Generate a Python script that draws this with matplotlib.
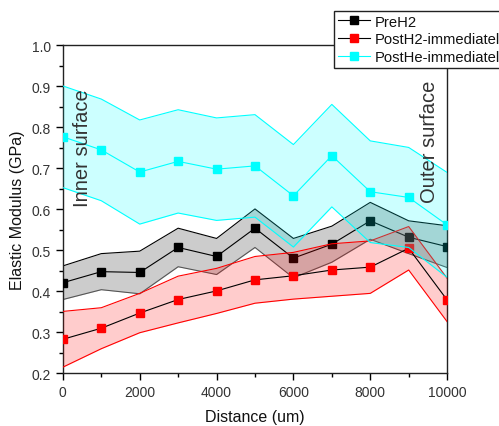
import matplotlib
matplotlib.use("Agg")
import matplotlib.pyplot as plt
from matplotlib.ticker import MultipleLocator
import numpy as np

plt.rcParams["font.family"] = ["Liberation Sans", "DejaVu Sans"]

# data
distance = [0, 1000, 2000, 3000, 4000, 5000, 6000, 7000, 8000, 9000, 10000]

pre_h2 = [0.421, 0.448, 0.446, 0.507, 0.485, 0.554, 0.481, 0.515, 0.572, 0.532, 0.509]
pre_h2_err = [0.041, 0.044, 0.052, 0.047, 0.044, 0.047, 0.048, 0.044, 0.045, 0.040, 0.051]

post_h2 = [0.283, 0.310, 0.347, 0.380, 0.401, 0.428, 0.438, 0.452, 0.459, 0.505, 0.379]
post_h2_err = [0.068, 0.050, 0.048, 0.057, 0.055, 0.057, 0.057, 0.064, 0.064, 0.053, 0.053]

post_he = [0.777, 0.745, 0.691, 0.717, 0.698, 0.706, 0.633, 0.731, 0.643, 0.629, 0.562]
post_he_err = [0.124, 0.124, 0.127, 0.126, 0.125, 0.125, 0.125, 0.125, 0.124, 0.122, 0.128]

labels = ["PreH2", "PostH2-immediately", "PostHe-immediately"]

fig = plt.figure(figsize=(4.99, 4.27), dpi=100)
ax = fig.add_axes([0.126, 0.1234, 0.770, 0.768])

# (marker colour, line colour, fill colour, lower edge colour)
series = [
    (pre_h2, pre_h2_err, "black", "black", "black", "#555555"),
    (post_h2, post_h2_err, "red", "black", "red", "red"),
    (post_he, post_he_err, "cyan", "cyan", "cyan", "cyan"),
]

x = np.array(distance)
handles = []
for i, (mean, err, mcol, lcol, fcol, ecol) in enumerate(series):
    mean = np.array(mean)
    err = np.array(err)
    z = 1 + 3 * i
    ax.fill_between(x, mean - err, mean + err, color=fcol, alpha=0.2,
                    linewidth=0, zorder=z)
    ax.plot(x, mean + err, color=fcol, lw=0.8, zorder=z + 1)
    ax.plot(x, mean - err, color=ecol, lw=0.8, zorder=z + 1)
    h, = ax.plot(x, mean, color=lcol, lw=0.8, marker="s", markersize=5.5,
                 markerfacecolor=mcol, markeredgecolor=mcol, zorder=z + 2,
                 label=labels[i])
    handles.append(h)

ax.set_xlim(0, 10000)
ax.set_ylim(0.2, 1.0)
ax.xaxis.set_major_locator(MultipleLocator(2000))
ax.xaxis.set_minor_locator(MultipleLocator(1000))
ax.yaxis.set_major_locator(MultipleLocator(0.1))
ax.yaxis.set_minor_locator(MultipleLocator(0.05))
ax.yaxis.set_major_formatter(plt.FuncFormatter(lambda v, p: f"{v:.1f}"))
ax.tick_params(which="both", direction="out", colors="black", labelcolor="#333333",
               labelsize=10, width=1)
ax.tick_params(which="major", length=5)
ax.tick_params(which="minor", length=3)
for s in ax.spines.values():
    s.set_linewidth(1)
    s.set_color("#222222")

ax.set_xlabel("Distance (um)", fontsize=11.5, color="#111111", labelpad=7)
ax.set_ylabel("Elastic Modulus (GPa)", fontsize=11.5, color="#111111", labelpad=5)

ax.text(0.052, 0.69, "Inner surface", rotation=90, fontsize=14.5, color="#333333",
        transform=ax.transAxes, ha="center", va="center", zorder=20)
ax.text(0.955, 0.71, "Outer surface", rotation=90, fontsize=14.5, color="#333333",
        transform=ax.transAxes, ha="center", va="center", zorder=20)

# the legend runs past the right edge of the figure, as in the original
leg = fig.legend(handles=handles, loc="upper left", bbox_to_anchor=(0.669, 0.972),
                 fontsize=10.6, frameon=True, fancybox=False, framealpha=1,
                 edgecolor="#222222", handlelength=2.2, handletextpad=0.3,
                 borderpad=0.25, labelspacing=0.25, borderaxespad=0)
leg.get_frame().set_linewidth(1)
for t in leg.get_texts():
    t.set_color("#111111")

plt.savefig("out.png", dpi=100)
